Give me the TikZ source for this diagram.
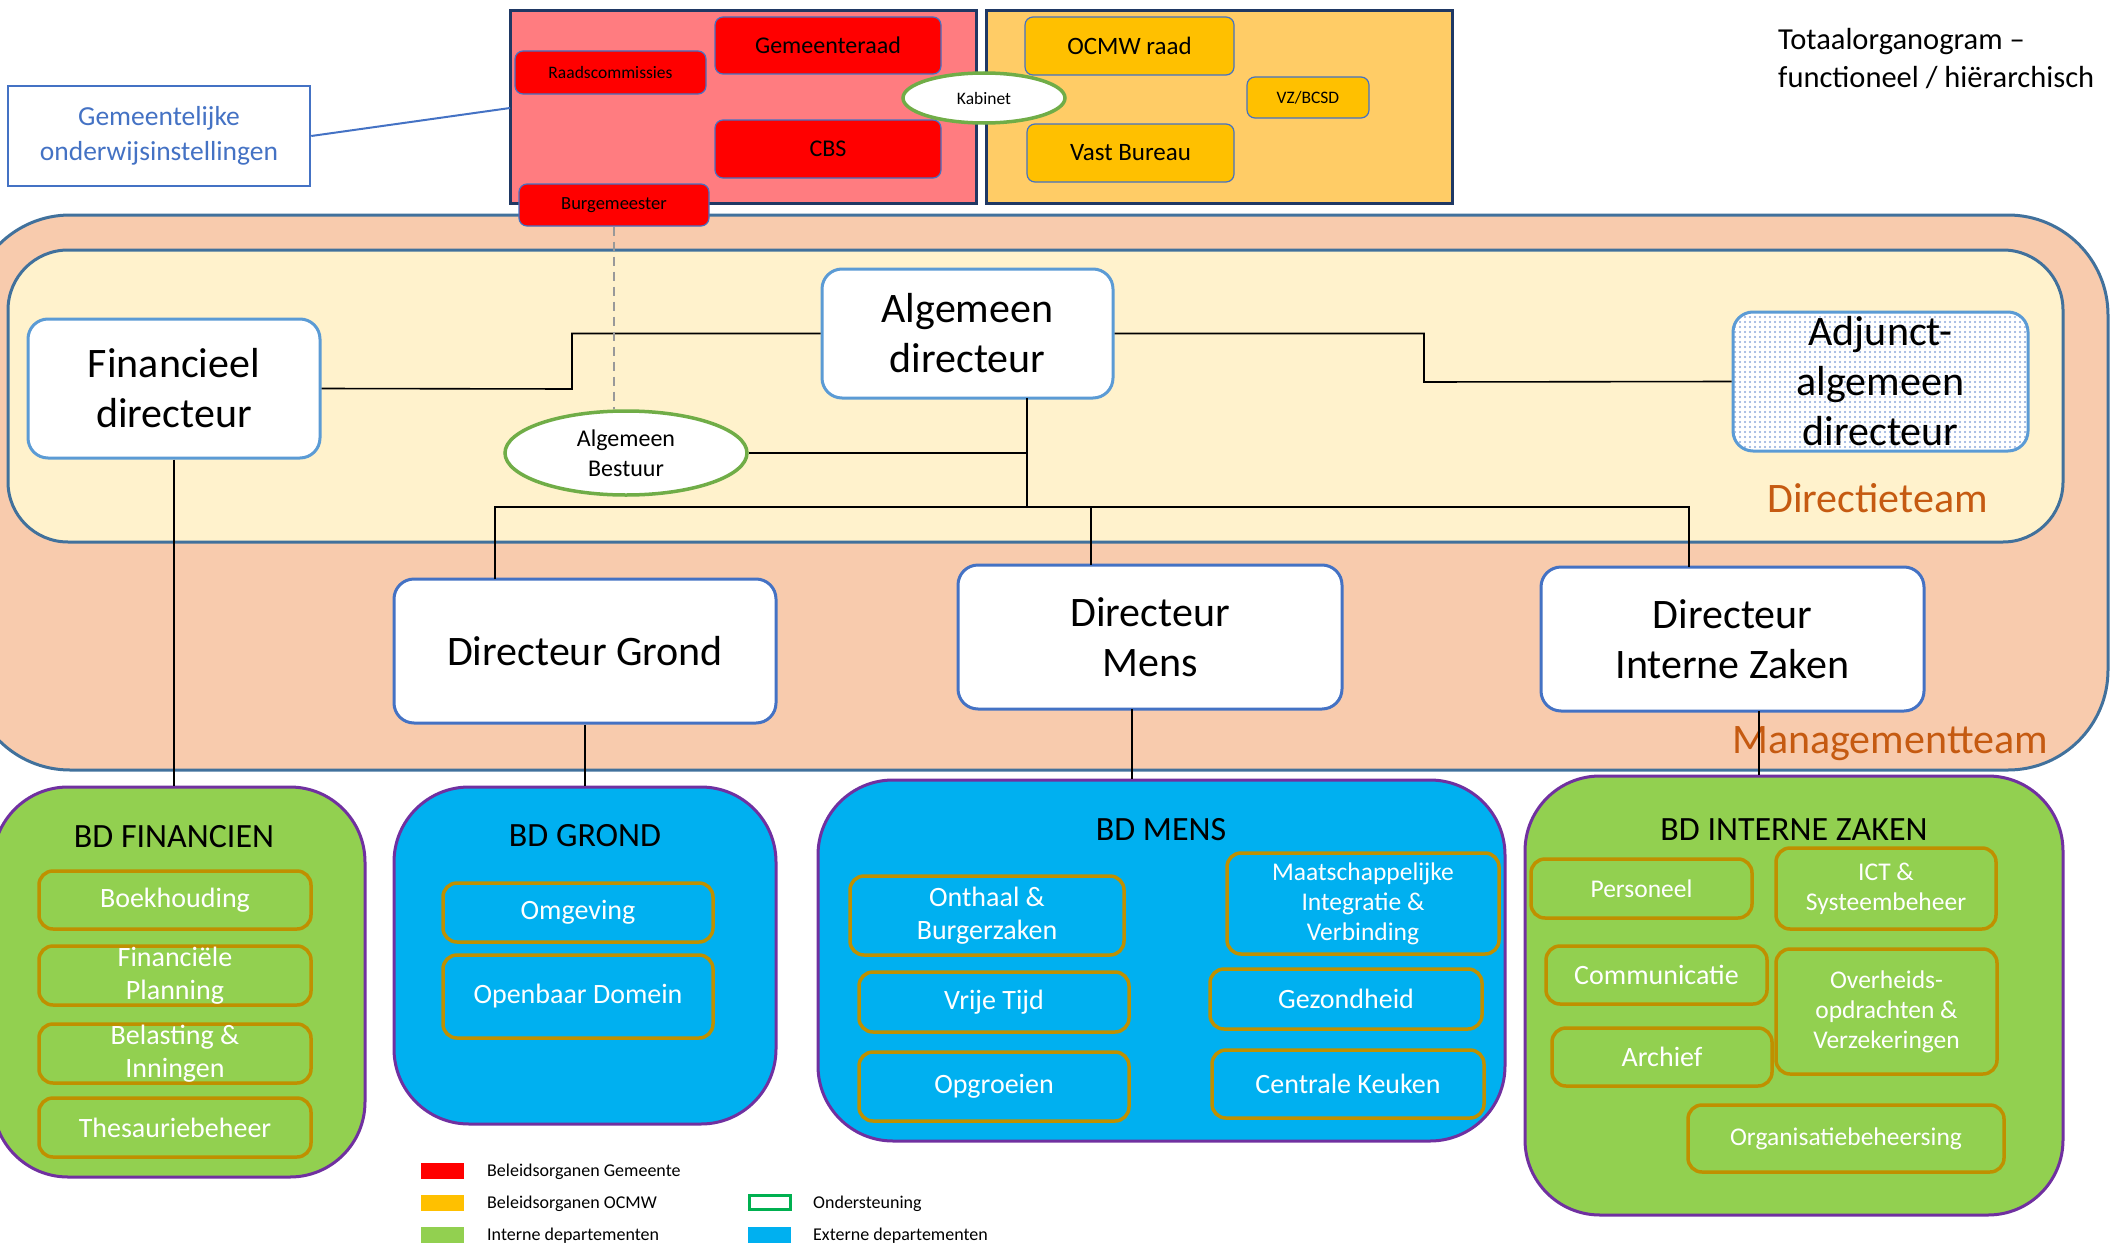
\documentclass[tikz,border=0pt]{standalone}
\usepackage{fontspec}
\setmainfont{Carlito}
\usetikzlibrary{shapes.geometric,patterns}
\pgfdeclarepatternformonly{bigdots}{\pgfpoint{-1.5pt}{-1.5pt}}{\pgfpoint{1.5pt}{1.5pt}}{\pgfpoint{5pt}{5pt}}{\pgfpathcircle{\pgfpointorigin}{1.1pt}\pgfusepath{fill}}
\definecolor{navy}{HTML}{1F3864}
\definecolor{pinkred}{HTML}{FF7C80}
\definecolor{lightorange}{HTML}{FFCC66}
\definecolor{brightred}{HTML}{FF0000}
\definecolor{amber}{HTML}{FFC000}
\definecolor{midblue}{HTML}{4472C4}
\definecolor{lightblue}{HTML}{5B9BD5}
\definecolor{dotblue}{HTML}{8FAADC}
\definecolor{steel}{HTML}{41719C}
\definecolor{peach}{HTML}{F8CBAD}
\definecolor{cream}{HTML}{FFF2CC}
\definecolor{rust}{HTML}{C55A11}
\definecolor{leaf}{HTML}{92D050}
\definecolor{sky}{HTML}{00B0F0}
\definecolor{purp}{HTML}{7030A0}
\definecolor{gold}{HTML}{BF9000}
\definecolor{grass}{HTML}{70AD47}
\definecolor{kelly}{HTML}{00B050}
\begin{document}
\begin{tikzpicture}[x=1pt,y=-1pt,
  govbox/.style={rectangle, draw=navy, line width=3pt, inner sep=0pt},
  rednode/.style={rectangle, rounded corners=8pt, fill=brightred, draw=midblue, line width=1.2pt, inner sep=0pt},
  ambnode/.style={rectangle, rounded corners=8pt, fill=amber, draw=midblue, line width=1.2pt, inner sep=0pt},
  oval/.style={ellipse, draw=grass, line width=3.5pt, fill=white, inner sep=0pt, align=center},
  dirbox/.style={rectangle, rounded corners=20pt, fill=white, draw=midblue, line width=3pt, align=center, font=\fontsize{42}{50}\selectfont, inner sep=0pt},
  bdbox/.style={rectangle, rounded corners=75pt, draw=purp, line width=3pt, inner sep=0pt},
  bdtitle/.style={font=\fontsize{34}{40}\selectfont, inner sep=0pt},
  subbox/.style={rectangle, rounded corners=14pt, draw=gold, line width=3.5pt, text=white, align=center, inner sep=0pt, font=\fontsize{28}{33}\selectfont},
  smallsub/.style={subbox, font=\fontsize{25.5}{30}\selectfont},
  teamlabel/.style={text=rust, font=\fontsize{42}{50}\selectfont, inner sep=0pt},
  conn/.style={draw=black, line width=1.6pt},
  legbox/.style={rectangle, minimum width=43pt, minimum height=16pt, inner sep=0pt},
  legtext/.style={anchor=west, font=\fontsize{18}{22}\selectfont, inner sep=0pt}
]
\useasboundingbox (0,0) rectangle (2110,1247);
\clip (0,0) rectangle (2110,1247);

% Management team and Directieteam backgrounds
\node[rectangle, rounded corners=100pt, fill=peach, draw=steel, line width=3pt, minimum width=2138pt, minimum height=555pt, inner sep=0pt] (mgmt) at (1039,492.5) {};
\node[rectangle, rounded corners=60pt, fill=cream, draw=steel, line width=3pt, minimum width=2055pt, minimum height=292pt, inner sep=0pt] (directie) at (1035.5,396) {};
\node[teamlabel, anchor=east] (dtlabel) at (1988,498) {Directieteam};
\node[teamlabel] (mtlabel) at (1890,744) {Managementteam};

% Governing bodies
\node[govbox, fill=pinkred, minimum width=466pt, minimum height=192pt] (redbox) at (743,107) {};
\node[govbox, fill=lightorange, minimum width=466pt, minimum height=192pt] (orangebox) at (1219,107) {};
\node[rednode, minimum width=226pt, minimum height=57pt, font=\fontsize{24}{28}\selectfont] (gemraad) at (828,45.5) {Gemeenteraad};
\node[rednode, minimum width=191pt, minimum height=43pt, font=\fontsize{17.5}{21}\selectfont] (raadscom) at (610.5,72.5) {Raadscommissies};
\node[rednode, minimum width=226pt, minimum height=58pt, font=\fontsize{24}{28}\selectfont] (cbs) at (828,149) {CBS};
\node[rednode, minimum width=190pt, minimum height=42pt, font=\fontsize{18.5}{22}\selectfont] (burg) at (614,205) {Burgemeester};
\node[ambnode, minimum width=209pt, minimum height=58pt, font=\fontsize{25}{30}\selectfont] (ocmwraad) at (1129.5,46) {OCMW raad};
\node[ambnode, minimum width=207pt, minimum height=58pt, font=\fontsize{25}{30}\selectfont] (vastbureau) at (1130.5,153) {Vast Bureau};
\node[ambnode, minimum width=122pt, minimum height=41pt, font=\fontsize{17.5}{21}\selectfont] (vz) at (1308,97.5) {VZ/BCSD};
\node[oval, minimum width=162pt, minimum height=50pt, font=\fontsize{17.5}{21}\selectfont] (kabinet) at (984,98) {Kabinet};

% Gemeentelijke onderwijsinstellingen
\node[rectangle, draw=midblue, line width=2.5pt, fill=white, text=midblue, align=center, inner sep=0pt, minimum width=302pt, minimum height=100pt, font=\fontsize{27.5}{35}\selectfont] (onderwijs) at (159,136) {Gemeentelijke\\onderwijsinstellingen};
\coordinate (rbin) at (510,108);
\draw[draw=midblue, line width=2pt] (onderwijs.east) -- (rbin);

% Title
\node[anchor=west, align=left, inner sep=0pt, font=\fontsize{30.5}{38}\selectfont] (title) at (1778,59) {Totaalorganogram --\\functioneel / hiërarchisch};

% Directors
\node[dirbox, draw=lightblue, minimum width=292pt, minimum height=139pt] (findir) at (174,388.5) {Financieel\\directeur};
\node[dirbox, draw=lightblue, minimum width=291pt, minimum height=129pt] (algdir) at (967.5,333.5) {Algemeen\\directeur};
\node[dirbox, draw=lightblue, preaction={fill=white}, pattern=bigdots, pattern color=dotblue, minimum width=295pt, minimum height=139pt] (adjunct) at (1880.5,381.5) {Adjunct-\\algemeen\\directeur};
\node[oval, minimum width=242pt, minimum height=84pt, font=\fontsize{24}{30}\selectfont] (ab) at (626,453) {Algemeen\\Bestuur};
\node[dirbox, minimum width=382pt, minimum height=144pt] (dirgrond) at (585,651) {Directeur Grond};
\node[dirbox, minimum width=384pt, minimum height=144pt] (dirmens) at (1150,637) {Directeur\\Mens};
\node[dirbox, minimum width=383pt, minimum height=144pt] (diriz) at (1732.5,639) {Directeur\\Interne Zaken};

% Connectors in the directieteam
\coordinate (j0) at (572,389);
\draw[conn] (findir.east) -- (j0) |- (algdir.west);
\coordinate (j1) at (1424,382);
\draw[conn] (algdir.east) -| (j1) -- (adjunct.west);
\coordinate (adb) at (1027,398);
\coordinate (abj) at (1027,453);
\coordinate (bus) at (1027,507);
\draw[conn] (adb) -- (bus);
\draw[conn] (ab.east) -- (abj);
\coordinate (g1) at (495,579);
\coordinate (g2) at (495,507);
\coordinate (m1) at (1091,565);
\coordinate (m2) at (1091,507);
\coordinate (z1) at (1689,567);
\coordinate (z2) at (1689,507);
\draw[conn] (g1) -- (g2) -- (z2) -- (z1);
\draw[conn] (m2) -- (m1);
\draw[draw=gray!80, line width=2pt, dash pattern=on 9pt off 6pt] (burg.south) -- (burg.south |- ab.north);

% Departments
\node[bdbox, fill=leaf, minimum width=372pt, minimum height=390pt] (bdfin) at (179,982) {};
\node[bdbox, fill=sky, minimum width=382pt, minimum height=337pt] (bdgrond) at (585,955.5) {};
\node[bdbox, fill=sky, minimum width=687pt, minimum height=361pt] (bdmens) at (1161.5,960.5) {};
\node[bdbox, fill=leaf, minimum width=538pt, minimum height=439pt] (bdiz) at (1794,995.5) {};

\draw[conn] (findir.south) -- (findir.south |- bdfin.north);
\draw[conn] (dirgrond.south) -- (dirgrond.south |- bdgrond.north);
\coordinate (mb) at (1132,709);
\draw[conn] (mb) -- (mb |- bdmens.north);
\coordinate (zb) at (1759,711);
\draw[conn] (zb) -- (zb |- bdiz.north);

\node[bdtitle] (tfin) at (174,837) {BD FINANCIEN};
\node[bdtitle] (tgrond) at (585,836) {BD GROND};
\node[bdtitle] (tmens) at (1161,830) {BD MENS};
\node[bdtitle] (tiz) at (1794,830) {BD INTERNE ZAKEN};

% BD Financien
\node[subbox, minimum width=272pt, minimum height=58pt] (boek) at (175,900) {Boekhouding};
\node[subbox, minimum width=272pt, minimum height=59pt] (finplan) at (175,975.5) {Financiële\\Planning};
\node[subbox, minimum width=272pt, minimum height=59pt] (belast) at (175,1053.5) {Belasting \&\\Inningen};
\node[subbox, minimum width=272pt, minimum height=59pt] (thes) at (175,1127.5) {Thesauriebeheer};

% BD Grond
\node[subbox, minimum width=270pt, minimum height=59pt] (omg) at (578,912.5) {Omgeving};
\node[subbox, minimum width=270pt, minimum height=83pt] (openb) at (578,996.5) {Openbaar Domein};

% BD Mens
\node[subbox, minimum width=274pt, minimum height=79pt] (onthaal) at (987,915.5) {Onthaal \&\\Burgerzaken};
\node[subbox, minimum width=270pt, minimum height=60pt] (vrije) at (994,1002) {Vrije Tijd};
\node[subbox, minimum width=270pt, minimum height=69pt] (opgr) at (994,1086.5) {Opgroeien};
\node[smallsub, minimum width=272pt, minimum height=101pt] (maat) at (1363,903.5) {Maatschappelijke\\Integratie \&\\Verbinding};
\node[subbox, minimum width=272pt, minimum height=60pt] (gez) at (1346,999) {Gezondheid};
\node[subbox, minimum width=272pt, minimum height=68pt] (centr) at (1348,1084) {Centrale Keuken};

% BD Interne Zaken
\node[smallsub, minimum width=221pt, minimum height=59pt] (pers) at (1641.5,888.5) {Personeel};
\node[smallsub, minimum width=220pt, minimum height=81pt] (ict) at (1886,888.5) {ICT \&\\Systeembeheer};
\node[subbox, minimum width=221pt, minimum height=58pt] (comm) at (1656.5,975) {Communicatie};
\node[smallsub, minimum width=221pt, minimum height=125pt] (overh) at (1886.5,1011.5) {Overheids-\\opdrachten \&\\Verzekeringen};
\node[subbox, minimum width=220pt, minimum height=58pt] (arch) at (1662,1057) {Archief};
\node[smallsub, minimum width=316pt, minimum height=67pt] (org) at (1846,1138.5) {Organisatiebeheersing};

% Legend
\node[legbox, fill=brightred] (lg1) at (442.5,1171) {};
\node[legtext] (lt1) at (487,1172) {Beleidsorganen Gemeente};
\node[legbox, fill=amber] (lg2) at (442.5,1203) {};
\node[legtext] (lt2) at (487,1204) {Beleidsorganen OCMW};
\node[legbox, fill=leaf] (lg3) at (442.5,1235) {};
\node[legtext] (lt3) at (487,1236) {Interne departementen};
\node[legbox, fill=white, draw=kelly, line width=3pt, minimum width=41pt, minimum height=14pt] (lg4) at (769.5,1202) {};
\node[legtext] (lt4) at (813,1204) {Ondersteuning};
\node[legbox, fill=sky] (lg5) at (769.5,1235) {};
\node[legtext] (lt5) at (813,1236) {Externe departementen};
\end{tikzpicture}
\end{document}
